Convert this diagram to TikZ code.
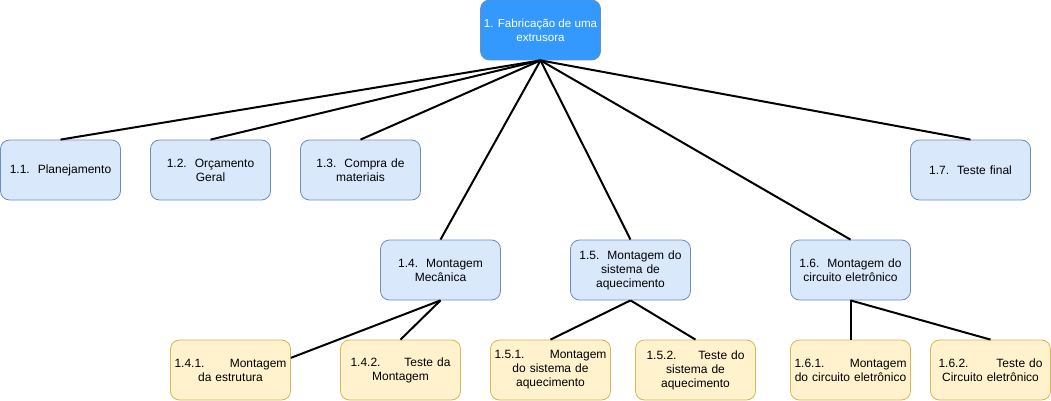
\documentclass[tikz,border=0pt]{standalone}
\usepackage{fontspec}
\setmainfont{Liberation Sans}
\usetikzlibrary{calc}
\definecolor{lblue}{HTML}{DAE8FC}
\definecolor{dblue}{HTML}{6C8EBF}
\definecolor{lyel}{HTML}{FFF2CC}
\definecolor{dyel}{HTML}{D6B656}
\definecolor{rootblue}{HTML}{3399FF}
\begin{document}
\begin{tikzpicture}[x=1pt,y=-1pt,
  box/.style={draw, rounded corners=9pt, minimum width=120pt, minimum height=60pt,
    inner sep=0pt, align=center, font=\fontsize{12}{14}\selectfont, line width=0.8pt,
    execute at begin node={\hyphenpenalty=10000}},
  bluebox/.style={box, fill=lblue, draw=dblue, text width=112pt},
  yelbox/.style={box, fill=lyel, draw=dyel, text width=112pt},
  rootbox/.style={box, fill=rootblue, draw=dblue, text=white,
    font=\fontsize{11.6}{14}\selectfont},
  link/.style={line width=2pt, black}]
\useasboundingbox (0,0) rectangle (1051,401);
\node[rootbox] (r) at (540.5,30) {1. Fabricação de uma\\extrusora};
\node[bluebox] (a1) at (60.5,170) {1.1.\ \ Planejamento};
\node[bluebox] (a2) at (210.5,170) {1.2.\ \ Orçamento\\Geral};
\node[bluebox] (a3) at (360.5,170) {1.3.\ \ Compra de\\materiais};
\node[bluebox] (a7) at (970.5,170) {1.7.\ \ Teste final};
\node[bluebox] (a4) at (440.5,270) {1.4.\ \ Montagem\\Mecânica};
\node[bluebox] (a5) at (630.5,270) {1.5.\ \ Montagem do\\sistema de\\aquecimento};
\node[bluebox] (a6) at (850.5,270) {1.6.\ \ Montagem do\\circuito eletrônico};
\node[yelbox] (b1) at (230.5,370) {1.4.1.\hfill Montagem\\da estrutura};
\node[yelbox] (b2) at (400.5,370) {\makebox[100pt][s]{1.4.2.\hfill Teste da}\\Montagem};
\node[yelbox] (b3) at (550.5,370) {1.5.1.\hfill Montagem\\do sistema de\\aquecimento};
\node[yelbox] (b4) at (695.5,370) {\makebox[98pt][s]{1.5.2.\hfill Teste do}\\sistema de\\aquecimento};
\node[yelbox] (b5) at (850.5,370) {1.6.1.\hfill Montagem\\do circuito eletrônico};
\node[yelbox] (b6) at (990.5,370) {\makebox[104pt][s]{1.6.2.\hfill Teste do}\\Circuito eletrônico};
\foreach \n in {a1,a2,a3,a4,a5,a6,a7}{\draw[link] (r.south) -- (\n.north);}
\coordinate (b1e) at ($(b1.north east)!0.3!(b1.south east)$);
\draw[link] (a4.south) -- (b1e);
\draw[link] (a4.south) -- (b2.north);
\draw[link] (a5.south) -- (b3.north);
\draw[link] (a5.south) -- (b4.north);
\draw[link] (a6.south) -- (b5.north);
\draw[link] (a6.south) -- (b6.north);
\end{tikzpicture}
\end{document}
